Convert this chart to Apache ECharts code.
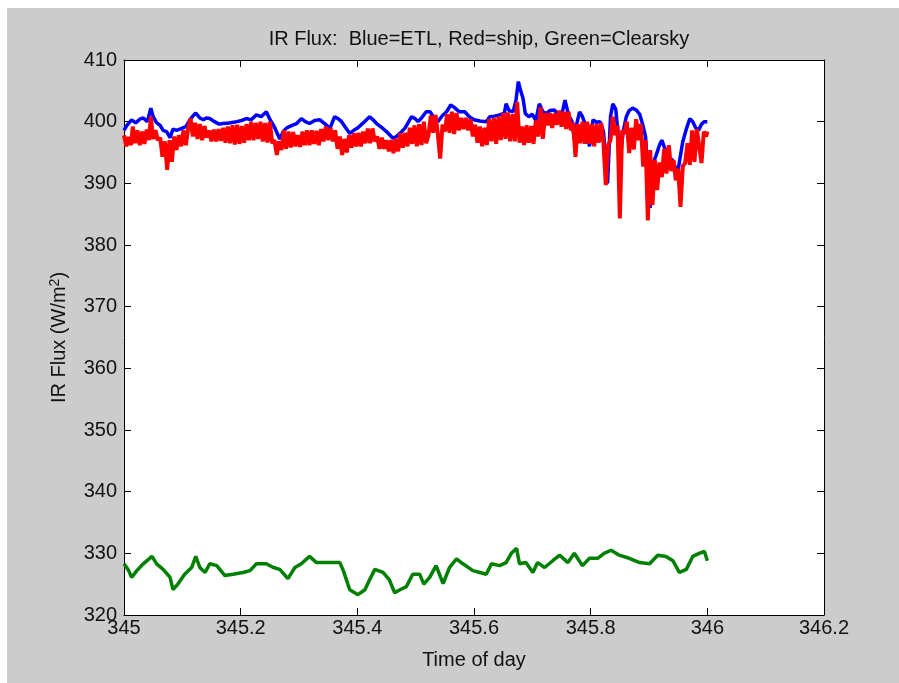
<!DOCTYPE html>
<html>
<head>
<meta charset="utf-8">
<title>IR Flux</title>
<script src="https://cdn.jsdelivr.net/npm/echarts@6/dist/echarts.min.js"></script>
<style>
  html, body { margin: 0; padding: 0; background: #ffffff; }
  #frame { position: absolute; left: 7px; top: 8px; width: 892px; height: 675px; background: #cccccc; }
  #chart { position: absolute; left: -7px; top: -8px; width: 899px; height: 683px; }
</style>
</head>
<body>
<div id="frame"><div id="chart"></div></div>
<script>
// ETL (blue)
var etlTime = [345.000, 345.005, 345.013, 345.020, 345.027, 345.033, 345.040, 345.046, 345.050, 345.056,
  345.062, 345.067, 345.073, 345.079, 345.084, 345.090, 345.099, 345.106, 345.113, 345.118,
  345.123, 345.130, 345.136, 345.141, 345.147, 345.155, 345.163, 345.170, 345.180, 345.193,
  345.202, 345.210, 345.218, 345.227, 345.235, 345.244, 345.250, 345.255, 345.259, 345.267,
  345.273, 345.279, 345.288, 345.296, 345.304, 345.311, 345.318, 345.327, 345.336, 345.345,
  345.353, 345.361, 345.367, 345.373, 345.380, 345.387, 345.394, 345.401, 345.410, 345.421,
  345.427, 345.433, 345.441, 345.450, 345.461, 345.467, 345.473, 345.482, 345.493, 345.499,
  345.504, 345.510, 345.518, 345.525, 345.532, 345.538, 345.546, 345.553, 345.560, 345.565,
  345.575, 345.584, 345.592, 345.600, 345.610, 345.621, 345.627, 345.635, 345.644, 345.652,
  345.655, 345.660, 345.667, 345.672, 345.676, 345.680, 345.684, 345.688, 345.694, 345.700,
  345.706, 345.712, 345.718, 345.724, 345.730, 345.738, 345.746, 345.752, 345.756, 345.762,
  345.768, 345.772, 345.776, 345.781, 345.786, 345.792, 345.798, 345.804, 345.810, 345.816,
  345.822, 345.829, 345.834, 345.838, 345.843, 345.846, 345.849, 345.852, 345.856, 345.861,
  345.866, 345.872, 345.878, 345.884, 345.889, 345.894, 345.902, 345.906, 345.912, 345.918,
  345.922, 345.928, 345.934, 345.940, 345.946, 345.949, 345.953, 345.958, 345.964, 345.970,
  345.975, 345.980, 345.985, 345.990, 345.995, 346.000];
var etlFlux = [398.6, 399.4, 400.3, 399.8, 400.4, 400.6, 400.0, 402.2, 400.8, 399.8,
  399.4, 398.6, 398.4, 397.4, 398.8, 398.6, 398.9, 399.2, 400.3, 400.9,
  401.4, 400.6, 400.3, 400.6, 400.5, 400.0, 399.6, 399.7, 399.8, 400.0,
  400.2, 400.5, 400.3, 401.1, 400.8, 401.6, 400.4, 399.6, 398.9, 397.2,
  398.4, 399.0, 399.4, 399.7, 400.5, 400.0, 399.7, 400.2, 400.3, 399.6,
  398.9, 400.8, 400.5, 400.0, 399.0, 398.1, 398.6, 399.0, 399.8, 400.8,
  400.3, 399.7, 399.1, 398.4, 397.3, 397.6, 398.1, 399.0, 400.8, 400.5,
  400.0, 400.6, 401.6, 401.6, 400.5, 400.0, 401.0, 401.6, 402.7, 402.4,
  401.6, 401.6, 400.8, 400.3, 400.1, 400.0, 400.8, 400.9, 401.1, 401.4,
  402.9, 401.8, 401.6, 403.5, 406.5, 405.0, 403.8, 401.3, 400.8, 401.2,
  400.2, 402.9, 401.6, 401.3, 401.8, 401.9, 400.8, 401.8, 403.5, 401.1,
  400.0, 397.0, 399.6, 401.6, 400.8, 399.2, 396.0, 400.3, 399.9, 400.0,
  398.4, 390.0, 400.8, 402.9, 402.0, 399.0, 396.6, 395.4, 398.5, 400.8,
  401.8, 402.2, 401.9, 401.2, 399.6, 397.6, 386.0, 393.0, 394.5, 396.2,
  397.0, 395.4, 394.2, 393.8, 392.4, 391.6, 394.0, 396.8, 398.8, 400.5,
  400.0, 399.0, 398.6, 399.6, 400.0, 400.0];

// ship (red)
var shipTime = [345.000, 345.004, 345.008, 345.012, 345.015, 345.019, 345.023, 345.027, 345.031, 345.035,
  345.039, 345.043, 345.046, 345.050, 345.054, 345.058, 345.062, 345.066, 345.070, 345.074,
  345.078, 345.082, 345.086, 345.090, 345.094, 345.098, 345.102, 345.106, 345.110, 345.114,
  345.118, 345.122, 345.126, 345.130, 345.134, 345.138, 345.142, 345.146, 345.150, 345.154,
  345.158, 345.162, 345.166, 345.170, 345.174, 345.178, 345.182, 345.186, 345.190, 345.194,
  345.198, 345.202, 345.206, 345.210, 345.214, 345.218, 345.222, 345.226, 345.230, 345.234,
  345.238, 345.242, 345.246, 345.250, 345.254, 345.258, 345.262, 345.266, 345.270, 345.274,
  345.278, 345.282, 345.286, 345.290, 345.294, 345.298, 345.302, 345.306, 345.310, 345.314,
  345.318, 345.322, 345.326, 345.330, 345.334, 345.338, 345.342, 345.346, 345.350, 345.354,
  345.358, 345.362, 345.366, 345.370, 345.374, 345.378, 345.382, 345.386, 345.390, 345.394,
  345.398, 345.402, 345.406, 345.410, 345.414, 345.418, 345.422, 345.426, 345.430, 345.434,
  345.438, 345.442, 345.446, 345.450, 345.454, 345.458, 345.462, 345.466, 345.470, 345.474,
  345.478, 345.482, 345.486, 345.490, 345.494, 345.498, 345.502, 345.506, 345.510, 345.514,
  345.518, 345.522, 345.526, 345.530, 345.534, 345.538, 345.542, 345.546, 345.550, 345.554,
  345.558, 345.562, 345.566, 345.570, 345.574, 345.578, 345.582, 345.586, 345.590, 345.594,
  345.598, 345.602, 345.606, 345.610, 345.614, 345.618, 345.622, 345.626, 345.630, 345.634,
  345.638, 345.642, 345.646, 345.650, 345.654, 345.658, 345.662, 345.666, 345.670, 345.674,
  345.678, 345.682, 345.686, 345.690, 345.694, 345.698, 345.702, 345.706, 345.710, 345.714,
  345.718, 345.722, 345.726, 345.730, 345.734, 345.738, 345.742, 345.746, 345.750, 345.754,
  345.758, 345.762, 345.766, 345.770, 345.774, 345.778, 345.782, 345.786, 345.790, 345.794,
  345.798, 345.802, 345.806, 345.810, 345.814, 345.818, 345.822, 345.826, 345.830, 345.834,
  345.838, 345.842, 345.846, 345.850, 345.854, 345.858, 345.862, 345.866, 345.870, 345.874,
  345.878, 345.882, 345.886, 345.890, 345.894, 345.898, 345.902, 345.906, 345.910, 345.914,
  345.918, 345.922, 345.926, 345.930, 345.934, 345.938, 345.942, 345.946, 345.950, 345.954,
  345.958, 345.962, 345.966, 345.970, 345.974, 345.978, 345.982, 345.986, 345.990, 345.994,
  345.998, 346.000];
var shipFlux = [397.8, 396.0, 397.5, 396.2, 399.2, 396.5, 398.6, 396.2, 398.4, 396.4,
  398.7, 397.0, 400.8, 397.2, 398.6, 397.0, 397.4, 394.3, 396.8, 392.2,
  397.0, 393.5, 397.6, 395.4, 397.8, 396.0, 398.6, 396.2, 398.9, 400.5,
  397.6, 399.8, 397.2, 399.6, 397.0, 399.3, 397.4, 398.6, 396.8, 398.7,
  396.8, 398.8, 396.9, 399.0, 396.6, 399.2, 396.5, 399.4, 396.3, 399.5,
  396.4, 399.3, 396.6, 399.6, 397.0, 400.0, 397.0, 399.8, 397.2, 400.0,
  396.8, 399.8, 396.6, 400.0, 396.5, 397.0, 394.6, 396.8, 395.4, 398.6,
  395.6, 398.4, 395.8, 398.3, 396.0, 397.8, 395.9, 398.4, 396.2, 398.6,
  396.2, 398.6, 396.4, 398.5, 396.2, 398.8, 396.8, 399.2, 397.0, 399.0,
  396.8, 398.6, 395.6, 397.6, 394.6, 397.2, 395.0, 397.8, 395.8, 398.1,
  396.0, 398.2, 396.0, 398.4, 396.5, 398.9, 396.5, 398.9, 396.8, 397.6,
  395.6, 397.4, 395.6, 397.0, 395.2, 397.0, 394.9, 397.2, 395.2, 398.1,
  395.8, 398.2, 396.0, 399.0, 396.4, 399.4, 396.0, 399.6, 396.2, 400.0,
  396.5, 397.8, 401.0, 398.2, 401.1, 398.0, 394.0, 399.5, 398.4, 401.2,
  398.2, 401.6, 398.0, 401.4, 398.6, 400.6, 398.8, 400.6, 398.6, 400.4,
  397.6, 399.5, 396.6, 399.2, 396.0, 399.0, 396.2, 400.4, 396.8, 400.6,
  396.4, 400.8, 397.0, 401.4, 397.2, 401.5, 396.8, 401.2, 396.8, 403.2,
  396.6, 399.2, 396.2, 399.4, 396.6, 399.3, 396.4, 400.2, 397.6, 402.3,
  397.2, 401.4, 399.4, 401.4, 399.0, 401.3, 399.5, 401.8, 399.2, 401.6,
  398.8, 401.6, 398.6, 399.8, 394.3, 399.6, 396.5, 400.0, 396.4, 400.0,
  396.4, 399.6, 396.0, 399.6, 396.6, 399.8, 396.4, 389.7, 396.2, 397.0,
  400.8, 397.8, 399.4, 384.3, 398.6, 398.0, 400.0, 394.9, 399.0, 395.5,
  400.4, 397.0, 399.6, 392.7, 397.0, 384.0, 395.4, 386.5, 393.8, 388.9,
  393.4, 391.0, 395.6, 391.6, 396.2, 392.0, 393.8, 390.5, 392.4, 386.2,
  392.8, 393.3, 396.5, 393.0, 398.6, 393.5, 398.8, 396.0, 393.3, 398.4,
  397.6, 398.4];

// clear sky model (green)
var clearTime = [345.000, 345.008, 345.013, 345.022, 345.033, 345.048, 345.056, 345.067, 345.079, 345.084,
  345.093, 345.104, 345.116, 345.123, 345.130, 345.139, 345.147, 345.159, 345.173, 345.187,
  345.204, 345.216, 345.227, 345.244, 345.256, 345.267, 345.281, 345.293, 345.304, 345.318,
  345.330, 345.353, 345.370, 345.376, 345.387, 345.401, 345.413, 345.421, 345.430, 345.444,
  345.455, 345.464, 345.473, 345.484, 345.495, 345.507, 345.514, 345.524, 345.535, 345.547,
  345.558, 345.570, 345.581, 345.598, 345.610, 345.621, 345.630, 345.644, 345.655, 345.664,
  345.673, 345.678, 345.689, 345.701, 345.709, 345.721, 345.735, 345.747, 345.761, 345.772,
  345.786, 345.798, 345.812, 345.823, 345.835, 345.849, 345.866, 345.884, 345.901, 345.915,
  345.929, 345.941, 345.952, 345.964, 345.975, 345.986, 345.995, 346.000];
var clearFlux = [328.3, 327.2, 326.1, 327.2, 328.3, 329.5, 328.3, 327.4, 326.1, 324.1,
  325.1, 326.6, 327.7, 329.5, 327.7, 326.9, 328.3, 328.0, 326.4, 326.6,
  326.9, 327.2, 328.3, 328.3, 327.7, 327.4, 325.9, 327.7, 328.3, 329.5,
  328.5, 328.5, 328.5, 327.2, 324.1, 323.3, 324.1, 325.7, 327.4, 326.9,
  325.7, 323.6, 324.1, 324.6, 326.6, 326.6, 325.0, 326.1, 328.0, 325.1,
  327.7, 329.1, 328.3, 327.2, 326.9, 326.6, 328.3, 328.0, 328.5, 330.0,
  330.8, 328.3, 328.5, 326.9, 328.5, 327.7, 328.8, 329.7, 328.5, 330.0,
  328.0, 329.2, 329.2, 330.0, 330.5, 329.7, 329.2, 328.5, 328.3, 329.7,
  329.5, 328.8, 326.9, 327.4, 329.5, 330.0, 330.3, 328.8];

var xTicks = { min: 345, max: 346.2, step: 0.2 };
var yTicks = { min: 320, max: 410, step: 10 };

function pairs(t, v) {
  return t.map(function (x, i) { return [x, v[i]]; });
}

var font = 'Liberation Sans, Arial, Helvetica, sans-serif';
var ink = '#111111';

var myChart = echarts.init(document.getElementById('chart'));
myChart.setOption({
  animation: false,
  backgroundColor: 'transparent',
  title: {
    text: 'IR Flux:  Blue=ETL, Red=ship, Green=Clearsky',
    left: 474, top: 24, textAlign: 'center',
    textStyle: { fontFamily: font, fontSize: 20, fontWeight: 'normal', color: ink }
  },
  grid: { left: 124, top: 60, right: 75, bottom: 68, show: true, backgroundColor: '#ffffff', borderWidth: 0 },
  xAxis: [{
    type: 'value', min: xTicks.min, max: xTicks.max, interval: xTicks.step,
    name: 'Time of day', nameLocation: 'middle', nameGap: 35,
    nameTextStyle: { fontFamily: font, fontSize: 20, color: ink },
    axisLine: { lineStyle: { color: '#000', width: 1 } },
    axisTick: { inside: true, length: 7, lineStyle: { color: '#000' } },
    axisLabel: { fontFamily: font, fontSize: 20, color: ink, margin: 3,
      formatter: function (v) { return String(+v.toFixed(1)); } },
    splitLine: { show: false }
  }, {
    type: 'value', position: 'top', min: xTicks.min, max: xTicks.max, interval: xTicks.step,
    axisLine: { lineStyle: { color: '#000', width: 1 } },
    axisTick: { inside: true, length: 7, lineStyle: { color: '#000' } },
    axisLabel: { show: false }, splitLine: { show: false }
  }],
  yAxis: [{
    type: 'value', min: yTicks.min, max: yTicks.max, interval: yTicks.step,
    name: 'IR Flux (W/m{sup|2})', nameLocation: 'middle', nameGap: 54, nameRotate: 90,
    nameTextStyle: { fontFamily: font, fontSize: 20, color: ink,
      rich: { sup: { fontFamily: font, fontSize: 14, color: ink, verticalAlign: 'top', lineHeight: 22 } } },
    axisLine: { show: true, lineStyle: { color: '#000', width: 1 } },
    axisTick: { show: true, inside: true, length: 7, lineStyle: { color: '#000' } },
    axisLabel: { fontFamily: font, fontSize: 20, color: ink, margin: 7 },
    splitLine: { show: false }
  }, {
    type: 'value', position: 'right', min: yTicks.min, max: yTicks.max, interval: yTicks.step,
    axisLine: { show: true, lineStyle: { color: '#000', width: 1 } },
    axisTick: { show: true, inside: true, length: 7, lineStyle: { color: '#000' } },
    axisLabel: { show: false }, splitLine: { show: false }
  }],
  series: [{
    name: 'ETL', type: 'line', showSymbol: false, data: pairs(etlTime, etlFlux),
    lineStyle: { color: '#0000ff', width: 3.5 }, itemStyle: { color: '#0000ff' }
  }, {
    name: 'ship', type: 'line', showSymbol: false, data: pairs(shipTime, shipFlux),
    lineStyle: { color: '#ff0000', width: 4 }, itemStyle: { color: '#ff0000' }
  }, {
    name: 'Clearsky', type: 'line', showSymbol: false, data: pairs(clearTime, clearFlux),
    lineStyle: { color: '#008000', width: 3.5 }, itemStyle: { color: '#008000' }
  }]
});
</script>
</body>
</html>
